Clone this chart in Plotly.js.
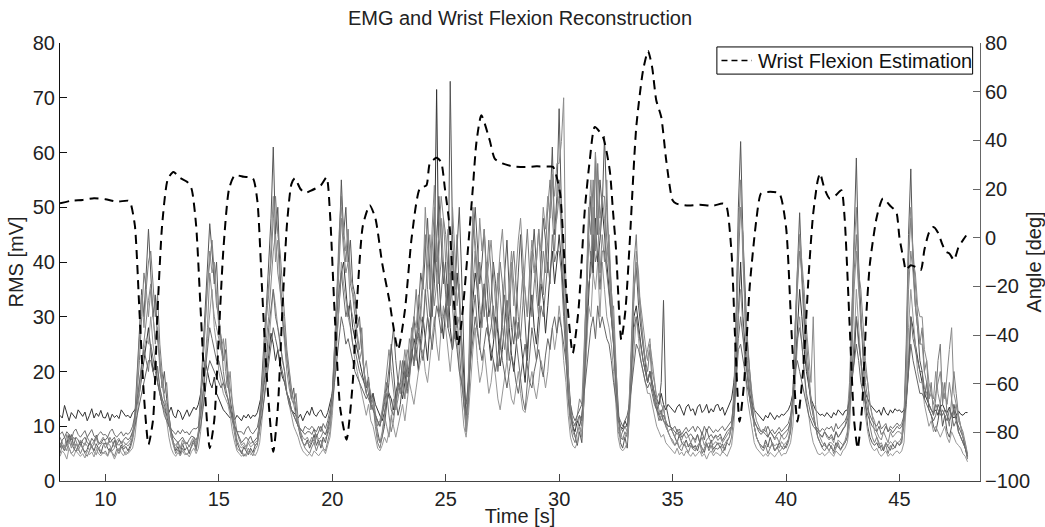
<!DOCTYPE html>
<html>
<head>
<meta charset="utf-8">
<script src="https://cdn.plot.ly/plotly-3.0.1.min.js"></script>
<style>html,body{margin:0;padding:0;background:#fff}#chart{width:1045px;height:527px}</style>
</head>
<body>
<div id="chart"></div>
<script>
// EMG RMS channels (mV), sampled every 0.1 s from 8.0 s to 48.0 s
const emgStart = 8.0, emgStep = 0.1;
const emgCh1 = [
12,11.5,13.8,12.2,11,12.5,12,11.4,13,12.3, 11.8,12.6,11,12,13.2,11.5,12.4,11.8,12.9,11.6,
11.5,12.5,11,12.2,11.6,12,11.4,13,12.4,11.8, 12,11.5,12.5,13,14,16,19,22,25,28,
24,20,22,18,16,14,13,12,12.5,13.5, 12,11.5,13,12.5,11.2,12,13,11.8,12.6,13.5,
13,14,16,19,22,20,18,17,19,16, 15,14,13,12.5,12,11.5,12,11.2,12,11.5,
11,12,11.5,12.2,11.4,12,11.8,12.5,14,16, 18,20,23,27,25,22,24,21,19,18,
16,15,13,12.5,12,11.5,12.2,11,12,12.8, 12,13.5,12.2,11.8,12.6,13,12,11.5,12.5,14,
16,20,26,32,38,40,35,30,33,28, 26,24,22,20,18,17,18,15,16,14,
13,12,11,12.5,14,16,15,13,16,18, 17,15,18,21,19,22,26,24,20,26,
30,26,22,28,34,40,71.5,38,30,26, 32,36,28,24,30,38,33,26,18,12,
15,24,33,38,35,28,31,36,30,26, 22,25,30,27,21,24,29,33,28,23,
20,24,29,26,22,18,24,30,34,28, 25,31,36,33,27,32,38,42,36,40,
45,40,33,26,18,12,10,9,11,10, 12,16,25,35,42,38,48,40,44,50,
45,40,35,30,25,18,12,10,9.5,11, 10,14,22,30,32,28,25,22,20,18,
20,18,16,15,14,16,14,13,14,13.5, 13,12.5,13.5,14,13,12,13.5,14,12.8,13.2,
12,13.5,14,12.5,13,14,12.4,13.2,12.6,13.8, 14,12.8,13.5,12,13,14,15,18,22,30,
40,30,24,20,16,14,13,12.5,12,11.5, 11,12,11.5,12.5,11.8,11.2,12,11.6,12.2,12,
12.5,13,14,16,20,28,35,30,24,20, 17,15,14,13,12.5,12,12.2,11.8,12.5,12,
11.5,12.5,12,13,12.4,12,12.8,13,15,18, 22,30,26,22,18,16,15,14,13.5,13,
12.5,13,12,13.5,12.5,12,13,12.4,13.2,12.8, 13,12.5,13,15,20,30,28,25,22,20,
18,16,15,14,13,12.5,13,12,13.5,14, 13,12.5,13.5,12,11.5,12,12.8,12.2,12,12.5,
12.5];
const emgCh2 = [
7,6.2,5.5,6.8,8.5,7,6,5.4,6.3,7.2, 6,5.2,5.8,7,6.4,5.5,6.8,6,5,6.5,
7,6,5.3,6.2,7.4,6,5.5,6.6,5.8,6.3, 5.5,6.5,8,12,20,28,35,30,38,46,
38,30,34,26,22,17,20,15,12,9, 7,5.5,6.3,5,6.8,5.6,6.2,5,6.5,7.5,
6,9,16,24,32,40,47,42,36,40, 30,26,22,24,18,15,12,9,7,6,
5,6.2,5.4,4.8,6,5.2,6.5,7,12,20, 26,32,40,48,61,45,50,38,30,26,
22,18,15,17,12,10,8,7,6.5,7.5, 6,7,8.5,6.5,7.5,6,8,7,9,11,
16,24,32,42,55,45,50,40,44,36, 34,28,30,24,20,17,19,14,16,11,
9,7,8,10,14,18,25,20,15,12, 14,18,22,17,20,26,30,25,32,38,
35,42,48,38,30,36,45,52,44,36, 40,32,73,45,35,42,50,38,22,9,
14,30,44,50,42,36,40,46,38,30, 33,40,36,28,24,30,38,44,35,28,
25,30,38,45,36,28,22,30,40,46, 38,32,40,48,44,38,50,61,45,52,
68,50,40,32,20,14,10,8,6.5,9, 7,15,30,45,52,38,60,45,55,50,
63,50,42,35,28,20,12,7,6,8, 6,12,25,35,39,32,28,25,22,18,
20,17,15,13,14,18,33,14,12,10, 9,8,7,8.5,7,6.5,7.5,6.2,7,6,
6.5,5.5,7,6,5.2,6.8,6,7.5,5.8,6.4, 7,6,6.8,5.6,7.2,8,10,16,30,50,
62,45,35,25,20,14,10,8,7,6.5, 6,7.5,6.2,8,6.5,5.5,6,7,6.2,5.8,
6.5,7.5,9,15,28,40,49,38,30,22, 18,14,12,10,8,7,6.2,7,6,6.8,
6,5.5,7,6.2,5.8,6.5,7,8,14,30, 45,59,40,30,22,14,10,8,7,6.5,
7,6,6.5,5.5,7,6.2,5.6,6.8,6,7, 6.5,7,12,25,45,57,40,32,28,22,
20,15,18,13,12,10,9,11,14,10, 12,9,8,10,14,12,9,8,7,6,
4];
const emgCh3 = [
5,6.5,5.5,7,6,5,5.5,6.8,6,5, 6,5,4.5,5.5,6.5,5.2,4.8,6,5.6,5,
5.5,4.6,6,5.2,4.5,5.8,5,6.2,5.4,4.8, 5.2,6,7.5,10,16,22,30,38,35,40,
42,36,30,34,25,20,16,18,12,9, 6.5,5,5.8,4.6,6,5.2,4.8,5.5,6.2,7,
5.5,8,14,22,30,36,40,44,38,32, 30,26,20,17,20,14,11,8,6,5.5,
5.5,4.5,5,6,5.2,4.6,5.8,6.5,10,16, 22,30,36,40,48,52,45,42,35,30,
24,20,17,14,16,11,9,7,6,5.5, 5,6.2,7,5.5,6.8,7.5,6,5.5,7,9,
14,22,34,45,52,44,40,46,36,34, 30,27,24,28,20,16,18,13,14,10,
7,6,8,12,16,12,9,11,14,18, 22,18,15,20,26,24,30,35,28,32,
38,45,35,30,42,50,44,36,40,48, 45,38,32,40,35,45,34,24,14,10,
18,36,48,42,34,40,36,30,38,44, 38,30,26,32,40,36,28,22,30,38,
42,36,30,26,32,40,46,38,30,36, 40,46,38,34,42,50,55,48,42,50,
55,45,35,25,15,10,8,7,9,12, 10,22,38,50,45,55,42,58,48,52,
52,44,40,32,25,15,9,8,7.5,9, 8,15,28,40,45,35,30,25,22,20,
24,18,15,13,11,12,14,10,9,8, 7.5,6.5,7,6,5.5,6.8,6,5.2,6.5,5.8,
5.5,6.5,7,5,6,7,5.5,6.5,5.2,6, 5.8,6.4,5.2,6,7,6.5,8,12,22,40,
50,45,30,22,18,14,10,8,7,6, 5.5,6.5,5,6,7,5.5,6.2,5.4,5.8,6.5,
6,7,9,14,25,35,42,38,32,25, 20,15,13,10,8,7,6,5.5,6.2,5.5,
6.5,5,6,7,5.6,6.2,7,8,12,25, 38,45,35,28,25,18,15,10,8,7,
8,7,5.5,6,6.5,5,6.5,5.8,6.2,7, 6.5,7.5,10,22,40,48,42,35,30,25,
28,20,22,15,18,12,15,22,25,14, 18,12,10,15,20,16,12,10,8,6,
5];
const emgCh4 = [
8,7,6,8.5,7,6.5,8,7.4,6.2,7.5, 7,6.5,8,7.2,6,7,7.8,6.6,7.4,8,
7.2,6.5,8,7,6.2,7.4,7.8,6.8,7.2,6.6, 7,7.5,9,11,14,18,22,26,30,33,
36,30,25,28,20,18,15,13,10,8, 7,6.5,7.2,6,7.5,6.8,7,6.2,7.4,8,
7,8,12,16,22,28,38,34,30,28, 26,24,22,26,20,17,14,11,9,7.5,
6.5,7,6.2,7.5,6.8,7.2,6.4,7,9,14, 20,26,30,36,42,45,38,35,30,25,
20,17,15,14,12,10,9,8,7.5,8, 7,8,7.2,8.5,7.6,8,9,8.4,9.5,11,
14,20,30,38,48,42,38,40,32,30, 28,26,22,24,20,18,16,14,15,12,
10,11,13,16,20,24,20,16,13,15, 18,16,20,24,22,28,25,22,26,30,
28,34,40,45,38,32,36,42,48,40, 35,30,36,42,34,28,30,22,15,11,
20,28,36,42,38,32,28,34,40,36, 30,26,32,38,34,28,24,28,36,42,
36,30,26,32,38,35,30,38,44,40, 34,30,36,42,38,45,50,55,46,48,
52,46,40,32,18,13,11,10,12,15, 14,25,35,45,40,50,42,48,38,45,
40,55,38,30,32,22,12,9,7.5,8, 9,16,24,32,42,38,30,26,22,24,
26,20,18,15,13,12,11,10,9,9.5, 9,8,9.5,8,7.5,8.6,7.8,8.2,7,8,
7,8.5,7,8,6.5,7.5,8,7,7.6,8.2, 7.4,8,7,7.6,8.4,9,10,14,28,45,
55,40,32,25,20,16,13,11,10,9, 9,10,8,9,8.5,7.5,8,7,8.4,7.6,
8,9,11,16,25,38,45,35,28,22, 18,15,12,10,9,8.5,8,9,8,7.5,
8,7,9,8,8.6,9.5,10,12,18,30, 42,50,38,35,28,22,18,14,12,11,
9,8,7.5,9,8,7,9,8,8.5,9, 9,8.5,12,20,35,42,38,32,28,25,
25,20,18,15,16,14,16,18,20,15, 16,14,18,15,12,14,11,10,9,7,
5];
const emgCh5 = [
4.5,5.5,5,4,6,5,4.5,5.5,5,4.5, 5,4.2,5.6,4.8,5.3,4.4,5.8,5,4.6,5.2,
5,4.5,5.5,5,4,5,6,5.2,4.6,5.4, 5,5.5,6,8,12,16,20,24,26,25,
30,25,22,20,17,15,13,11,8,6, 5,4.5,5.2,4.6,5.5,4.8,5,4.4,5.4,6,
5,6,9,14,20,26,30,35,28,25, 20,18,16,15,14,12,9,7,5.5,5,
4.5,5,4.5,5.5,4.8,5.2,4.6,5.4,7,11, 15,20,25,30,35,32,28,26,22,20,
16,14,12,10,9,8,6.5,5.5,5,4.6, 5,4.5,5.5,5,4.6,5.2,5.8,5,6.5,8,
12,18,25,32,40,36,33,30,28,25, 22,20,18,16,14,12,14,11,10,8,
6,5.5,6.5,8,7,9,12,10,8,10, 12,14,11,15,18,16,14,17,20,22,
24,20,18,22,26,30,25,22,28,32, 28,24,20,25,30,26,20,15,10,8,
12,18,24,28,22,18,20,24,20,16, 18,22,19,15,13,16,20,22,18,15,
14,17,20,16,13,12.5,15,18,20,17, 15,18,22,20,17,20,25,28,24,27,
32,28,22,18,12,8,6.5,6,7,10, 9,15,25,32,30,38,35,40,30,40,
35,30,28,25,20,14,8,6,5.5,6, 7,12,18,25,30,26,22,20,18,16,
16,14,12,10,9,8,8.5,7,6.5,6, 5.5,5,6,4.8,5.3,4.6,5.5,5,4.5,5.2,
4.5,5,5.5,4.5,5,4,5,5.5,4.6,5.2, 5,4.6,5.4,5,4.5,5.5,6.5,10,18,30,
35,28,20,15,12,9,7,6,5.5,5, 4.5,5,4.5,5.2,4.8,4.4,5,5.5,4.6,5,
5,6,7,10,18,25,30,25,20,15, 12,9,7,6,5,4.8,5.2,4.6,5,5.4,
5,4.5,5.5,5,4.6,5.5,6,7,10,18, 25,35,28,20,15,12,9,7,6,5.5,
6,5,4.5,5,5.5,4.5,5,4.6,5.2,5.5, 5,5.5,7,14,28,35,30,25,20,18,
18,14,12,10,11,9,10,9,8,9, 10,8,7,9,8,7,6.5,6,5,4.5,
3.5];
const emgCh6 = [
6,7.5,8,7,7.5,8.5,6.5,8,7.5,6.5, 7.5,8,7,6.6,7.8,7.2,8.4,7,6.8,7.6,
7.5,8,7,7.5,8,6.5,7.5,7,7.6,8, 7.5,8,9,10,12,14,16,18,20,22,
22,20,18,21,17,15,14,12,10,9, 8,7.5,7,7.5,8,7.2,6.8,7.6,8.2,8,
7.5,8.5,10,13,16,20,22,21,20,19, 18,17,18,16,15,13,12,10,9,8,
7,7.5,8,7.5,8.2,7,7.6,8,10,12, 15,18,21,24,28,26,24,22,20,18,
16,14,13,12,11,10,9.5,9,8.5,9, 9,8.5,9.5,8,9,10,9,8.5,10,12,
14,18,22,26,30,28,25,26,24,22, 20,19,18,17,16,15,16,14,13,12,
11,10,12,14,17,20,24,28,22,18, 16,18,20,19,22,24,21,25,27,24,
22,26,30,28,24,28,32,30,27,30, 32,28,26,24,27,24,20,18,16,14,
18,22,26,30,27,24,22,25,28,26, 24,22,20,23,26,22,19,17,20,23,
21,18,16,19,22,25,21,18,17,20, 22,24,21,19,23,26,24,28,30,27,
30,28,25,22,18,14,12,11,12,13, 14,16,20,25,28,30,26,32,28,30,
28,26,25,22,18,15,12,11,10,11, 12,14,18,22,25,24,22,20,18,17,
18,16,14,13,12,11,12,11,10,10, 9.5,9,8.5,9,8,8.5,9,8.2,8.6,8,
7.5,8.5,7,9,7.5,9.5,8,8.5,7.8,8.4, 8,8.6,7.4,8.2,9,9.5,10,12,18,24,
25,22,20,17,15,13,11,10,9,8.5, 9,8.5,8,9,8.4,7.8,8.5,9,8.2,8.6,
9,9.5,11,14,20,22,20,18,16,14, 12,11,10,9.5,9,8.5,8,9,8.4,7.8,
8.5,7.5,9,8,8.6,9.2,10,11,13,18, 22,25,22,18,16,14,12,11,10,9.5,
9,10,8.5,9,10,9,9.5,8.8,9.4,10, 9.5,10,11,14,20,25,22,20,18,16,
16,15,14,13,12,11,12,14,13,12, 13,12,11,12,13,11,10,9,8,6,
4.5];
const emgCh7 = [
7,6,6.5,5.5,7.5,6,7,6,5.5,6.5, 6,7,6.4,5.6,6.8,7.2,6,5.8,6.6,7,
6,7,6.5,5.5,6,7,6.5,7.2,6.2,6.8, 6.4,7,8,11,18,26,34,28,35,30,
35,30,26,28,22,18,15,14,11,8, 6.5,6,7,5.8,6.6,7.2,6,6.4,7,7.6,
6.5,9,15,22,28,35,42,38,40,34, 28,24,26,20,17,20,14,10,7.5,6.5,
6,6.5,5.8,7,6.2,6.6,7,7.4,11,18, 24,30,34,42,52,40,44,35,32,28,
22,20,16,15,14,10,8.5,7,6.5,7, 6.5,7.4,6.8,8,7,6.4,7.2,7.8,8.5,10,
15,24,32,40,50,46,42,45,38,35, 32,30,28,25,20,22,18,16,14,12,
8,7,9,12,10,8,11,15,13,17, 16,20,24,20,18,25,30,28,34,30,
36,50,42,35,46,54,40,45,52,48, 40,46,36,50,42,32,36,26,14,9,
15,34,50,44,38,48,42,46,36,40, 44,38,32,36,42,46,38,30,34,40,
32,38,44,48,40,34,30,36,42,38, 40,46,42,50,46,52,48,56,52,58,
58,62,70,35,20,12,9,8,9,10, 8,20,35,48,55,45,60,50,45,52,
48,40,45,35,28,18,10,8,9,10, 9,14,25,35,40,35,32,28,25,22,
25,22,18,15,16,14,13,11,9,8, 7,6.5,7.5,6,6.8,7.2,6.2,6.6,7,6.4,
5.8,6.4,7,6,5.5,6.5,7,6.2,6.8,7.2, 6.6,7,6,6.8,7.5,8,10,14,30,45,
50,45,28,20,15,12,10,8,7,6.5, 6.2,7,6.5,6,7,6.4,6.8,6,7.2,6.6,
7,7.5,10,15,28,38,45,40,35,28, 22,18,30,14,10,8,7,6.5,6,7,
7,6.5,6,7.5,7,6.6,7.4,9,14,22, 35,42,35,30,25,20,18,14,12,9,
8,6.5,7,6,7,6.5,7.2,6.8,7.4,7, 7.2,8,11,20,42,50,40,38,32,30,
30,24,22,18,16,15,20,16,14,18, 15,20,24,28,16,14,12,10,8,7,
4];
const emgCh8 = [
8.5,9,8,9,8.5,7.5,9,9.5,8.5,8, 8.6,9.2,8,8.8,9.4,8.2,7.8,8.6,9,8.4,
8.5,8,9,9.5,8.5,8,8.5,9,8.2,8.8, 8.5,9,10,12,15,18,21,24,22,20,
25,22,20,18,16,14,12,11,10,9.5, 9,8.5,9.2,8.6,9.4,8.8,9,8.4,9.2,9.6,
9.5,10,12,16,20,24,28,26,24,22, 22,20,18,17,15,13,11,10,9,9,
9,8.5,9.5,10,9,8.6,9.2,9.8,12,14, 18,22,28,32,35,30,28,25,22,20,
16,15,13,12,11,10,9.5,9,10,9.6, 9.4,10,9.5,9,10,9,10.5,9.6,11,13,
16,22,30,35,38,34,30,32,28,25, 24,22,20,19,18,16,15,14,13,12,
11,10,12,15,18,16,13,12,15,17, 18,22,19,16,20,24,22,26,28,24,
28,35,30,26,32,45,38,30,34,40, 34,28,38,32,26,30,24,18,14,12,
15,22,30,34,28,24,32,36,30,26, 28,32,26,20,24,30,34,28,22,25,
30,26,22,18,15,13,18,24,28,25, 22,27,32,30,35,40,36,45,40,42,
42,38,30,22,15,12,10,10.5,11,12, 11,18,28,36,38,45,40,42,35,42,
42,38,35,30,25,18,11,10,9,10, 10,13,20,28,30,27,25,22,20,18,
20,18,16,14,12,13,11,10.5,10,10, 9.5,10,9,9.5,8.5,9.2,9.8,9,9.6,10,
9,10,9.5,8.5,10,9,10,9.5,8.8,9.4, 9,9.6,10,9.2,9.8,10.5,11,14,20,26,
30,26,22,18,15,12,11,10,9.5,9, 9.5,9,10,9,9.4,8.6,9.2,9.8,9,9.5,
10,10.5,12,15,20,26,28,25,20,16, 14,12,11,10,9.5,9,9.6,9.2,9.8,9.5,
10,9,10.5,9.5,10,10.5,11,12,15,20, 25,30,25,22,18,15,13,12,11,10.5,
10,11,9.5,10,10.5,9,10,9.6,10.2,10.6, 10,10.5,12,15,22,30,26,24,22,20,
20,17,16,14,13,12,14,13,12,13, 12,11,13,12,10,11,9,8,7,6,
4.5];

// Wrist flexion estimate (deg)
const wristTime = [8.0,8.5,9.0,9.5,10.0,10.5,11.0,11.1,11.3,11.5,11.7,11.9,12.1,12.3,12.5,12.75,13.0,13.3,13.6,13.8,14.0,14.2,14.4,14.6,14.8,15.0,15.2,15.45,15.7,16.1,16.5,16.7,16.9,17.1,17.4,17.6,17.8,18.0,18.2,18.35,18.6,18.8,19.1,19.5,19.75,19.9,20.1,20.35,20.63,20.9,21.1,21.35,21.65,21.9,22.2,22.5,22.9,23.2,23.5,23.86,24.15,24.3,24.6,24.8,24.96,25.18,25.35,25.55,25.75,25.99,26.2,26.35,26.57,26.94,27.16,27.5,28.0,28.5,29.0,29.5,29.73,30.03,30.3,30.6,30.85,31.13,31.35,31.57,31.93,32.23,32.37,32.5,32.74,32.92,33.1,33.4,33.7,33.92,34.1,34.28,34.5,34.72,35.0,35.17,35.7,36.2,36.8,37.2,37.37,37.6,37.75,37.95,38.15,38.4,38.69,38.9,39.2,39.7,40.0,40.25,40.5,40.75,41.0,41.19,41.4,41.5,41.7,41.92,42.2,42.44,42.58,42.8,43.0,43.16,43.35,43.55,43.7,44.0,44.27,44.6,44.86,45.0,45.2,45.28,45.5,45.7,45.94,46.1,46.3,46.5,46.7,46.9,47.05,47.2,47.4,47.6,47.8,48.0];
const wristAngle = [14.1,15.2,15.5,16.2,15.8,14.8,15.2,14.5,5,-30,-65,-85,-75,-30,5,24,27,24.5,23,20,5,-30,-65,-86.5,-75,-40,-5,20,25.6,25,24.4,15,-20,-55,-88,-70,-30,5,22,24.4,20,18.4,19.5,21.5,24.8,10,-30,-70,-83,-60,-25,5,13.3,8,-10.5,-25,-46,-30,0,20.2,21.5,30.5,32.8,31,20.6,4,-25,-44.2,-30,-3.7,20.8,38.8,50.3,40,32.5,30.5,29.2,29,29.3,29.2,29.1,19,-20,-47.5,-30,11.3,31.8,45.5,41.4,27.7,11.3,-3.8,-42,-30,-3.8,45.5,68.8,76.7,70,56.5,49.6,31.8,15.4,14,13.2,13.5,13.2,14,13,-6.4,-40,-75.6,-60,-20,7.2,18.2,18.8,18.2,4.4,-40,-75.6,-55,-15,9.2,23.6,26.4,20,16.1,17.5,19.5,8.5,-35,-75,-86.6,-70,-30,-10.5,8.5,16.1,13,10.6,0,-9.9,-13.3,-11.3,-12,-13.3,-5,2,4.4,2,-3,-5.8,-6.5,-9.2,-4,-1,1.7];

const legendLabel = 'Wrist Flexion Estimation';

const emgTime = [];
for (let i = 0; i < emgCh1.length; i++) emgTime.push(+(emgStart + i * emgStep).toFixed(2));

const channels = [emgCh1, emgCh2, emgCh3, emgCh4, emgCh5, emgCh6, emgCh7, emgCh8];
const chColors = ['#333333', '#555555', '#7a7a7a', '#868686', '#979797', '#666666', '#8b8b8b', '#6e6e6e'];

const traces = channels.map((ch, i) => ({
  x: emgTime, y: ch, type: 'scatter', mode: 'lines',
  line: {color: chColors[i], width: 1},
  showlegend: false, hoverinfo: 'skip', xaxis: 'x', yaxis: 'y'
}));
traces.push({
  x: wristTime, y: wristAngle, type: 'scatter', mode: 'lines',
  name: legendLabel, showlegend: false,
  line: {color: '#000000', width: 2, dash: '9px,6px', shape: 'spline', smoothing: 0.6},
  xaxis: 'x', yaxis: 'y2'
});

const font = 'Liberation Sans, Arial, Helvetica, sans-serif';
const layout = {
  width: 1045, height: 527,
  margin: {l: 60, r: 65, t: 43, b: 46, pad: 0},
  paper_bgcolor: '#ffffff', plot_bgcolor: '#ffffff',
  font: {family: font, size: 20, color: '#222222'},
  title: {text: 'EMG and Wrist Flexion Reconstruction', font: {family: font, size: 20, color: '#222222'}, x: 0.4976, xanchor: 'center', y: 0.965, yanchor: 'middle'},
  showlegend: false,
  xaxis: {
    range: [8, 48.55], tickvals: [10,15,20,25,30,35,40,45], ticks: 'inside', ticklen: 7, tickcolor: '#444',
    showline: true, linecolor: '#444', linewidth: 1, showgrid: false, zeroline: false,
    title: {text: 'Time [s]', standoff: 1, font: {family: font, size: 20}}, tickfont: {family: font, size: 20}
  },
  yaxis: {
    range: [0, 80], dtick: 10, ticks: 'inside', ticklen: 7, tickcolor: '#111',
    showline: true, linecolor: '#111', linewidth: 1, showgrid: false, zeroline: false,
    title: {text: 'RMS [mV]', standoff: 3, font: {family: font, size: 20}}, tickfont: {family: font, size: 20}
  },
  yaxis2: {
    overlaying: 'y', side: 'right', range: [-100, 80], dtick: 20, ticks: 'inside', ticklen: 7, tickcolor: '#666',
    showline: true, linecolor: '#666', linewidth: 1, showgrid: false, zeroline: false,
    title: {text: 'Angle [deg]', standoff: 6, font: {family: font, size: 20}}, tickfont: {family: font, size: 20}
  },
  shapes: [
    {type: 'rect', xref: 'paper', yref: 'paper', x0: 0.714, x1: 0.992, y0: 0.929, y1: 0.991,
     line: {color: '#000000', width: 1}, fillcolor: '#ffffff', layer: 'above'},
    {type: 'line', xref: 'paper', yref: 'paper', x0: 0.719, x1: 0.752, y0: 0.960, y1: 0.960,
     line: {color: '#000000', width: 1.3, dash: '6px,4px'}, layer: 'above'}
  ],
  annotations: [
    {text: legendLabel, xref: 'paper', yref: 'paper', x: 0.757, y: 0.960, xanchor: 'left', yanchor: 'middle',
     showarrow: false, font: {family: font, size: 20, color: '#111111'}}
  ]
};

Plotly.newPlot('chart', traces, layout, {staticPlot: true, displayModeBar: false});
</script>
</body>
</html>
